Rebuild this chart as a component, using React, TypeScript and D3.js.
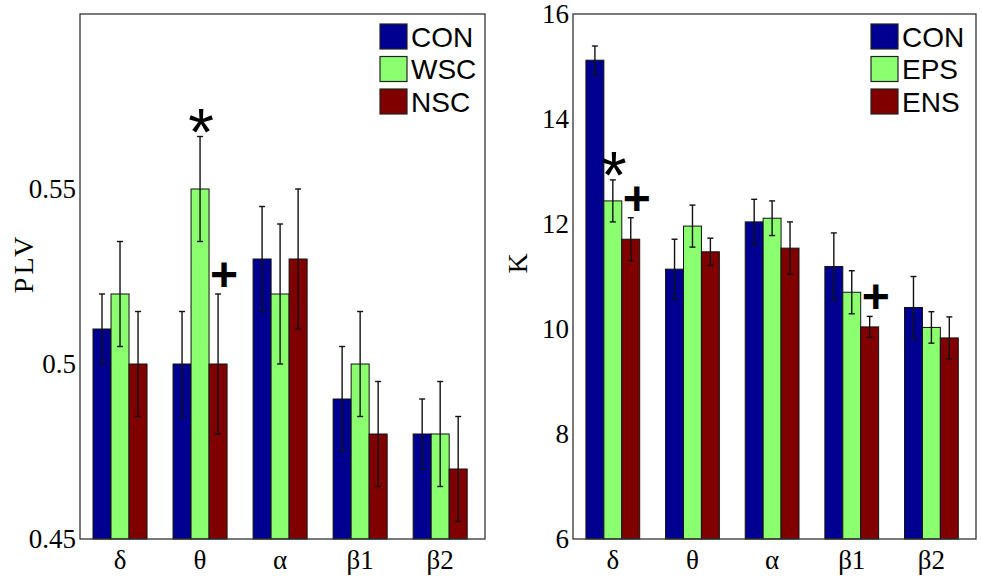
import React from 'react';
import * as d3 from 'd3';

// frequency bands on the x axis
const bands = ['δ', 'θ', 'α', 'β1', 'β2'];

// left panel: PLV
const plvSeries = ['CON', 'WSC', 'NSC'];
const plvCON = [0.51, 0.5, 0.53, 0.49, 0.48];
const plvWSC = [0.52, 0.55, 0.52, 0.5, 0.48];
const plvNSC = [0.5, 0.5, 0.53, 0.48, 0.47];
const plvErrCON = [0.01, 0.015, 0.015, 0.015, 0.01];
const plvErrWSC = [0.015, 0.015, 0.02, 0.015, 0.015];
const plvErrNSC = [0.015, 0.02, 0.02, 0.015, 0.015];
const plvTicks = [0.45, 0.5, 0.55];

// right panel: K
const kSeries = ['CON', 'EPS', 'ENS'];
const kCON = [15.12, 11.14, 12.04, 11.19, 10.41];
const kEPS = [12.44, 11.96, 12.11, 10.7, 10.03];
const kENS = [11.71, 11.47, 11.54, 10.04, 9.83];
const kErrCON = [0.27, 0.57, 0.43, 0.64, 0.59];
const kErrEPS = [0.4, 0.4, 0.33, 0.41, 0.3];
const kErrENS = [0.41, 0.26, 0.5, 0.2, 0.4];
const kTicks = [6, 8, 10, 12, 14, 16];

// significance marks: band index, series index, symbol
const plvMarks = [
  { band: 1, series: 1, symbol: '*' },
  { band: 1, series: 2, symbol: '+' },
];
const kMarks = [
  { band: 0, series: 1, symbol: '*' },
  { band: 0, series: 2, symbol: '+' },
  { band: 3, series: 2, symbol: '+' },
];

const colors = ['#000090', '#8CFF70', '#800000'];
const serif = '"Liberation Serif", "Times New Roman", serif';
const sans = '"Liberation Sans", Arial, sans-serif';

function Panel({ left, right, yDomain, ticks, tickFmt, label, labelX, series, values, errors, marks }) {
  const top = 14;
  const bottom = 539;
  const x = d3.scaleLinear().domain([0.5, 5.56]).range([left, right]);
  const y = d3.scaleLinear().domain(yDomain).range([bottom, top]);
  const groupW = x(1.675) - x(1);
  const bw = groupW / series.length;
  const barX = (b, s) => x(b + 1) - groupW / 2 + s * bw;

  return (
    <g>
      {values.map((vals, s) =>
        vals.map((v, b) => (
          <rect key={`b${s}-${b}`} x={barX(b, s)} y={y(v)} width={bw} height={y(yDomain[0]) - y(v)}
            fill={colors[s]} stroke="#111" strokeWidth={1} />
        ))
      )}
      {values.map((vals, s) =>
        vals.map((v, b) => {
          const cx = barX(b, s) + bw / 2;
          const e = errors[s][b];
          return (
            <g key={`e${s}-${b}`} stroke="#111" strokeWidth={1.4}>
              <line x1={cx} x2={cx} y1={y(v - e)} y2={y(v + e)} />
              <line x1={cx - 3} x2={cx + 3} y1={y(v - e)} y2={y(v - e)} />
              <line x1={cx - 3} x2={cx + 3} y1={y(v + e)} y2={y(v + e)} />
            </g>
          );
        })
      )}
      {marks.map((m, i) => {
        const cx = barX(m.band, m.series) + bw / 2;
        const tip = y(values[m.series][m.band] + errors[m.series][m.band]);
        return m.symbol === '*' ? (
          <text key={`m${i}`} x={cx + 1} y={tip - 20 + 38} textAnchor="middle" fontFamily={sans} fontSize={66}>*</text>
        ) : (
          <text key={`m${i}`} x={cx + 6} y={tip - 19 + 16} textAnchor="middle" fontFamily={sans} fontWeight="bold" fontSize={48}>+</text>
        );
      })}
      <rect x={left} y={top} width={right - left} height={bottom - top} fill="none" stroke="#333" strokeWidth={1.3} />
      {ticks.map((t) => (
        <text key={`t${t}`} x={left - 4} y={y(t)} dy="0.35em" textAnchor="end" fontFamily={serif} fontSize={27}>{tickFmt(t)}</text>
      ))}
      {bands.map((bnd, b) => (
        <text key={`x${b}`} x={x(b + 1)} y={569} textAnchor="middle" fontFamily={serif} fontSize={27}>{bnd}</text>
      ))}
      <text transform={`translate(${labelX},${(top + bottom) / 2 - 13}) rotate(-90)`} textAnchor="middle"
        fontFamily={serif} fontSize={28} letterSpacing={label.length > 1 ? 3 : 0}>{label}</text>
      {series.map((name, s) => (
        <g key={`l${s}`}>
          <rect x={right - 105} y={24 + s * 32.5} width={27} height={25} fill={colors[s]} stroke="#222" strokeWidth={1.2} />
          <text x={right - 74} y={24 + s * 32.5 + 12.5} dy="0.36em" fontFamily={sans} fontSize={28}>{name}</text>
        </g>
      ))}
    </g>
  );
}

export default function App() {
  return (
    <svg width={982} height={578} style={{ position: 'absolute', left: 0, top: 0, background: '#fff' }}>
      <Panel left={80} right={485} yDomain={[0.45, 0.6]} ticks={plvTicks}
        tickFmt={(t) => (t === 0.5 ? '0.5' : t.toFixed(2))} label="PLV" labelX={33}
        series={plvSeries} values={[plvCON, plvWSC, plvNSC]} errors={[plvErrCON, plvErrWSC, plvErrNSC]} marks={plvMarks} />
      <Panel left={573} right={976} yDomain={[6, 16]} ticks={kTicks}
        tickFmt={(t) => String(t)} label="K" labelX={527}
        series={kSeries} values={[kCON, kEPS, kENS]} errors={[kErrCON, kErrEPS, kErrENS]} marks={kMarks} />
    </svg>
  );
}
